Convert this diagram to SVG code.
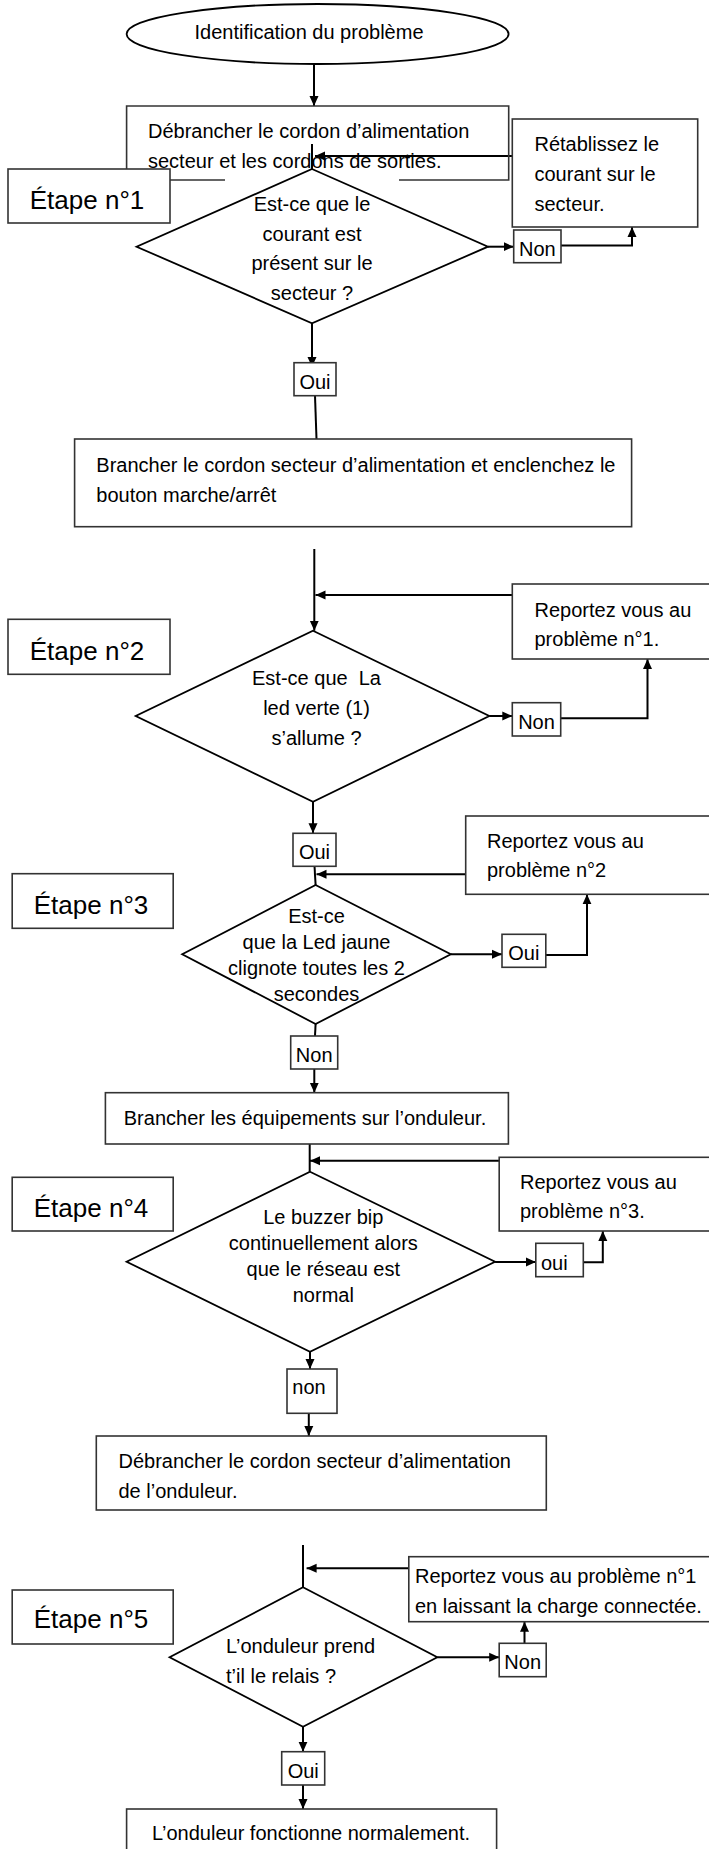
<svg xmlns="http://www.w3.org/2000/svg" width="709" height="1849" viewBox="0 0 709 1849">
<style>
.bg{fill:#fff}
.box{fill:#fff;stroke:#333;stroke-width:1.6}
.dia{fill:#fff;stroke:#000;stroke-width:1.8}
.ln{fill:none;stroke:#000;stroke-width:2}
.t{font-family:"Liberation Sans",Arial,sans-serif;font-size:20px;fill:#000}
.c{text-anchor:middle}
.et{font-family:"Liberation Sans",Arial,sans-serif;font-size:26px;fill:#000;text-anchor:middle}
</style>
<defs>
<marker id="ah" markerUnits="userSpaceOnUse" markerWidth="11" markerHeight="10" refX="10" refY="5" orient="auto">
<path d="M0,0.5 L10,5 L0,9.5 z" fill="#000"/>
</marker>
</defs>
<rect class="bg" x="0" y="0" width="709" height="1849"/>

<g id="connectors">
<line class="ln" x1="314" y1="64" x2="314" y2="106" marker-end="url(#ah)"/>
<line class="ln" x1="512" y1="156" x2="315" y2="156" marker-end="url(#ah)"/>
<line class="ln" x1="488" y1="246.7" x2="513.7" y2="246.7" marker-end="url(#ah)"/>
<polyline class="ln" points="561,245.5 632,245.5 632,227" marker-end="url(#ah)"/>
<line class="ln" x1="312" y1="323.3" x2="312" y2="367" marker-end="url(#ah)"/>
<line class="ln" x1="315" y1="395.7" x2="316.5" y2="439"/>
<line class="ln" x1="314.3" y1="549" x2="314.3" y2="630.7" marker-end="url(#ah)"/>
<line class="ln" x1="512.3" y1="595" x2="315.5" y2="595" marker-end="url(#ah)"/>
<line class="ln" x1="489.3" y1="716" x2="512.3" y2="716" marker-end="url(#ah)"/>
<polyline class="ln" points="560.7,718.3 647.5,718.3 647.5,659" marker-end="url(#ah)"/>
<line class="ln" x1="313" y1="801.7" x2="313" y2="833.3" marker-end="url(#ah)"/>
<line class="ln" x1="465.7" y1="874.3" x2="316.5" y2="874.3" marker-end="url(#ah)"/>
<line class="ln" x1="314.5" y1="866" x2="315.6" y2="885"/>
<line class="ln" x1="450.8" y1="954.3" x2="502" y2="954.3" marker-end="url(#ah)"/>
<polyline class="ln" points="545.8,955 587,955 587,894.3" marker-end="url(#ah)"/>
<line class="ln" x1="315.6" y1="1024" x2="315" y2="1036"/>
<line class="ln" x1="314.3" y1="1069" x2="314.3" y2="1092.7" marker-end="url(#ah)"/>
<line class="ln" x1="309.7" y1="1144" x2="309.7" y2="1171.7"/>
<line class="ln" x1="499.2" y1="1160.7" x2="310" y2="1160.7" marker-end="url(#ah)"/>
<line class="ln" x1="495.1" y1="1262" x2="535.8" y2="1262" marker-end="url(#ah)"/>
<polyline class="ln" points="583.3,1262.3 602.8,1262.3 602.8,1231" marker-end="url(#ah)"/>
<line class="ln" x1="310" y1="1351.7" x2="310" y2="1369" marker-end="url(#ah)"/>
<line class="ln" x1="308.8" y1="1413.3" x2="308.8" y2="1436" marker-end="url(#ah)"/>
<line class="ln" x1="303" y1="1545" x2="303" y2="1587.3"/>
<line class="ln" x1="408.8" y1="1568.3" x2="306.6" y2="1568.3" marker-end="url(#ah)"/>
<line class="ln" x1="437.3" y1="1657.3" x2="499.2" y2="1657.3" marker-end="url(#ah)"/>
<line class="ln" x1="524.5" y1="1643.3" x2="524.5" y2="1621.7" marker-end="url(#ah)"/>
<line class="ln" x1="303" y1="1726.7" x2="303" y2="1751.7" marker-end="url(#ah)"/>
<line class="ln" x1="303" y1="1785" x2="303" y2="1809" marker-end="url(#ah)"/>
</g>

<g id="start">
<ellipse class="dia" cx="317.6" cy="34" rx="191" ry="30"/>
<text class="t c" x="309" y="38.5">Identification du problème</text>
</g>

<g id="box1">
<path fill="none" stroke="#333" stroke-width="1.6" d="M225,180 H126.6 V106 H508.7 V180 H399"/>
<text class="t" x="148" y="138">Débrancher le cordon d’alimentation</text>
<text class="t" x="148" y="168">secteur et les cordons de sorties.</text>
</g>
<line class="ln" x1="312" y1="144" x2="312" y2="169"/>

<g id="retablissez">
<rect class="box" x="512.3" y="119" width="185.4" height="108"/>
<text class="t" x="534.5" y="151">Rétablissez le</text>
<text class="t" x="534.5" y="181">courant sur le</text>
<text class="t" x="534.5" y="211">secteur.</text>
</g>

<g id="etape1">
<rect class="box" x="8" y="169" width="162" height="54"/>
<text class="et" x="87" y="208.5">Étape n°1</text>
</g>

<g id="q1">
<polygon class="dia" points="312,169 488,246.7 312,323.3 136.6,246.7"/>
<text class="t c" x="312" y="210.5">Est-ce que le</text>
<text class="t c" x="312" y="240.5">courant est</text>
<text class="t c" x="312" y="270">présent sur le</text>
<text class="t c" x="312" y="300">secteur ?</text>
</g>

<g id="non1">
<rect class="box" x="513.7" y="230" width="47.3" height="32.7"/>
<text class="t c" x="537.3" y="256">Non</text>
</g>

<g id="oui1">
<rect class="box" x="294" y="362.7" width="42" height="33"/>
<text class="t c" x="315" y="388.5">Oui</text>
</g>

<g id="box2">
<rect class="box" x="74.6" y="439" width="557" height="87.7"/>
<text class="t" x="96.3" y="471.5">Brancher le cordon secteur d’alimentation et enclenchez le</text>
<text class="t" x="96.3" y="501.5">bouton marche/arrêt</text>
</g>

<g id="report1">
<rect class="box" x="512.3" y="584" width="220" height="75"/>
<text class="t" x="534.5" y="616.5">Reportez vous au</text>
<text class="t" x="534.5" y="646">problème n°1.</text>
</g>

<g id="etape2">
<rect class="box" x="8" y="619.3" width="162" height="55"/>
<text class="et" x="87" y="659.5">Étape n°2</text>
</g>

<g id="q2">
<polygon class="dia" points="313,630.7 489.3,716 313,801.7 135.7,716"/>
<text class="t c" x="316.5" y="685" style="white-space:pre">Est-ce que  La</text>
<text class="t c" x="316.5" y="715">led verte (1)</text>
<text class="t c" x="316.5" y="744.5">s’allume ?</text>
</g>

<g id="non2">
<rect class="box" x="512.3" y="702.7" width="48.4" height="33.3"/>
<text class="t c" x="536.5" y="728.5">Non</text>
</g>

<g id="oui2">
<rect class="box" x="293" y="833.3" width="43" height="33"/>
<text class="t c" x="314.5" y="859">Oui</text>
</g>

<g id="report2">
<rect class="box" x="465.7" y="816" width="260" height="78.3"/>
<text class="t" x="487" y="848.3">Reportez vous au</text>
<text class="t" x="487" y="876.7">problème n°2</text>
</g>

<g id="etape3">
<rect class="box" x="12.2" y="873.7" width="161" height="54.6"/>
<text class="et" x="91" y="914">Étape n°3</text>
</g>

<g id="q3">
<polygon class="dia" points="315.6,885 450.8,954.3 315.6,1024 182.2,954.3"/>
<text class="t c" x="316.5" y="923.3">Est-ce</text>
<text class="t c" x="316.5" y="949.3">que la Led jaune</text>
<text class="t c" x="316.5" y="975">clignote toutes les 2</text>
<text class="t c" x="316.5" y="1001">secondes</text>
</g>

<g id="oui3">
<rect class="box" x="502" y="934.3" width="43.8" height="33"/>
<text class="t c" x="523.8" y="960">Oui</text>
</g>

<g id="non3">
<rect class="box" x="290.7" y="1036" width="47" height="33"/>
<text class="t c" x="314.2" y="1061.5">Non</text>
</g>

<g id="box3">
<rect class="box" x="105.4" y="1092.7" width="403" height="51.3"/>
<text class="t c" x="305" y="1125">Brancher les équipements sur l’onduleur.</text>
</g>

<g id="report3">
<rect class="box" x="499.2" y="1157.3" width="220" height="73.7"/>
<text class="t" x="520" y="1189.3">Reportez vous au</text>
<text class="t" x="520" y="1218.3">problème n°3.</text>
</g>

<g id="etape4">
<rect class="box" x="12.2" y="1177.3" width="161" height="53.7"/>
<text class="et" x="91" y="1216.7">Étape n°4</text>
</g>

<g id="q4">
<polygon class="dia" points="310,1171.7 495.1,1261.7 310,1351.7 126.6,1261.7"/>
<text class="t c" x="323.3" y="1224.3">Le buzzer bip</text>
<text class="t c" x="323.3" y="1250">continuellement alors</text>
<text class="t c" x="323.3" y="1276">que le réseau est</text>
<text class="t c" x="323.3" y="1301.7">normal</text>
</g>

<g id="oui4">
<rect class="box" x="535.8" y="1243.3" width="47.5" height="33.4"/>
<text class="t" x="541" y="1270">oui</text>
</g>

<g id="non4">
<rect class="box" x="287" y="1369" width="50" height="44.3"/>
<text class="t c" x="309" y="1394">non</text>
</g>

<g id="box4">
<rect class="box" x="96.3" y="1436" width="450" height="74"/>
<text class="t" x="118.5" y="1467.7">Débrancher le cordon secteur d’alimentation</text>
<text class="t" x="118.5" y="1497.7">de l’onduleur.</text>
</g>

<g id="report4">
<rect class="box" x="408.8" y="1556.7" width="320" height="65"/>
<text class="t" x="415" y="1583.3">Reportez vous au problème n°1</text>
<text class="t" x="415" y="1612.7">en laissant la charge connectée.</text>
</g>

<g id="etape5">
<rect class="box" x="12.2" y="1590" width="161" height="54"/>
<text class="et" x="91" y="1628.3">Étape n°5</text>
</g>

<g id="q5">
<polygon class="dia" points="303,1587.3 437.3,1657.3 303,1726.7 169.6,1657.3"/>
<text class="t" x="226" y="1653.3">L’onduleur prend</text>
<text class="t" x="226" y="1682.7">t’il le relais ?</text>
</g>

<g id="non5">
<rect class="box" x="499.2" y="1643.3" width="47" height="33.4"/>
<text class="t c" x="522.7" y="1669.3">Non</text>
</g>

<g id="oui5">
<rect class="box" x="281.7" y="1751.7" width="43" height="33.3"/>
<text class="t c" x="303.2" y="1778.3">Oui</text>
</g>

<g id="end">
<rect class="box" x="126.6" y="1809" width="370" height="60"/>
<text class="t c" x="311" y="1840">L’onduleur fonctionne normalement.</text>
</g>
</svg>
